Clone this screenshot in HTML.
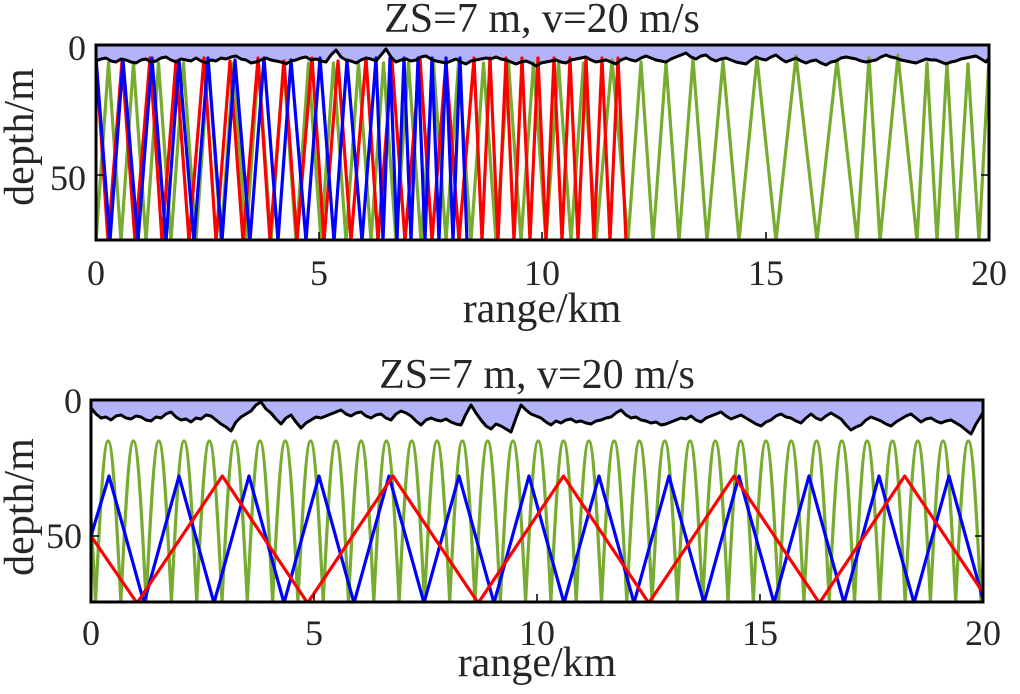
<!DOCTYPE html>
<html><head><meta charset="utf-8"><style>
html,body{margin:0;padding:0;background:#fff;}
svg text{font-family:"Liberation Serif","Times New Roman",serif;fill:#262626;}
</style></head><body>
<svg width="1020" height="689" viewBox="0 0 1020 689" xmlns="http://www.w3.org/2000/svg">
<defs>
<clipPath id="c1"><rect x="96" y="45" width="893" height="195"/></clipPath>
<clipPath id="c2"><rect x="91" y="400" width="892" height="202"/></clipPath>
<path id="s1" d="M96,45 L96,61 L101,59 L106,58 L111,61 L116,62 L121,59 L126,60 L131,62 L136,63 L141,60 L146,59 L151,62 L156,61 L161,58 L166,57 L171,60 L176,62 L181,59 L186,60 L191,61 L196,58 L201,61 L206,63 L211,60 L216,61 L221,58 L226,59 L231,57 L236,56 L241,59 L246,60 L251,63 L256,62 L261,60 L266,58 L271,60 L276,61 L281,62 L286,64 L291,61 L296,60 L301,58 L306,57 L311,60 L316,59 L321,61 L326,62 L331,55 L336,50 L341,57 L346,60 L351,61 L356,63 L361,60 L366,58 L371,59 L376,61 L381,55 L386,49 L391,57 L396,62 L401,60 L406,59 L411,61 L416,60 L421,57 L426,56 L431,59 L436,61 L441,62 L446,63 L451,61 L456,59 L461,62 L466,64 L471,61 L476,60 L481,59 L486,58 L491,59 L496,57 L501,59 L506,60 L511,62 L516,64 L521,62 L526,61 L531,63 L536,66 L541,63 L546,62 L551,61 L556,60 L561,62 L566,63 L571,60 L576,59 L581,58 L586,57 L591,60 L596,62 L601,61 L606,60 L611,62 L616,64 L621,60 L626,58 L631,60 L636,61 L641,58 L646,56 L651,58 L656,60 L661,61 L666,62 L671,59 L676,57 L681,55 L686,53 L691,57 L696,59 L701,56 L706,55 L711,59 L716,61 L721,59 L726,58 L731,60 L736,62 L741,63 L746,64 L751,60 L756,57 L761,59 L766,60 L771,57 L776,55 L781,59 L786,62 L791,60 L796,58 L801,61 L806,63 L811,61 L816,60 L821,63 L826,65 L831,62 L836,61 L841,58 L846,57 L851,58 L856,59 L861,61 L866,62 L871,61 L876,60 L881,57 L886,55 L891,57 L896,58 L901,60 L906,61 L911,62 L916,63 L921,61 L926,59 L931,60 L936,60 L941,62 L946,64 L951,62 L956,61 L961,59 L966,58 L971,57 L976,56 L981,59 L986,62 L989,58 L989,45"/>
<path id="s2" d="M91,400 L91,408 L96,414 L101,418 L106,417 L111,420 L116,416 L121,415 L126,418 L131,419 L136,416 L141,417 L146,420 L151,421 L156,417 L161,418 L166,414 L171,412 L176,417 L181,420 L186,419 L191,422 L196,418 L201,419 L206,415 L211,416 L216,420 L221,424 L226,427 L231,431 L236,422 L241,417 L246,414 L251,411 L256,405 L261,402 L266,409 L271,413 L276,419 L281,424 L286,418 L291,415 L296,422 L301,428 L306,423 L311,420 L316,417 L321,418 L326,416 L331,414 L336,412 L341,410 L346,414 L351,416 L356,413 L361,412 L366,416 L371,418 L376,415 L381,414 L386,418 L391,420 L396,414 L401,411 L406,413 L411,416 L416,421 L421,425 L426,420 L431,418 L436,420 L441,421 L446,419 L451,422 L456,424 L461,425 L466,414 L471,405 L476,413 L481,420 L486,426 L491,429 L496,424 L501,426 L506,429 L511,432 L516,418 L521,405 L526,410 L531,414 L536,416 L541,418 L546,422 L551,425 L556,421 L561,423 L566,420 L571,419 L576,422 L581,421 L586,423 L591,424 L596,421 L601,420 L606,418 L611,417 L616,413 L621,410 L626,415 L631,418 L636,417 L641,420 L646,421 L651,423 L656,422 L661,425 L666,424 L671,422 L676,420 L681,418 L686,419 L691,416 L696,420 L701,422 L706,418 L711,416 L716,414 L721,412 L726,416 L731,419 L736,417 L741,415 L746,418 L751,421 L756,424 L761,426 L766,422 L771,420 L776,416 L781,414 L786,417 L791,418 L796,421 L801,423 L806,418 L811,414 L816,418 L821,420 L826,416 L831,413 L836,416 L841,419 L846,425 L851,430 L856,427 L861,425 L866,420 L871,417 L876,419 L881,421 L886,424 L891,426 L896,422 L901,419 L906,416 L911,414 L916,418 L921,422 L926,419 L931,418 L936,421 L941,423 L946,421 L951,420 L956,423 L961,426 L966,430 L971,434 L976,424 L981,416 L983,412 L983,400"/>
</defs>
<g clip-path="url(#c1)" fill="none" stroke-linejoin="round">
<use href="#s1" fill="#b3b3fa" stroke="none"/>
<path stroke="#77ac30" stroke-width="3.2" d="M96,241 l12.5,-178l12.5,178 l12.5,-178l12.5,178 l12.5,-178l12.5,178 l12.5,-178l12.5,178 l12.5,-178l12.5,178 l12.5,-178l12.5,178 l12.5,-178l12.5,178 l12.5,-178l12.5,178 l12.5,-178l12.5,178 l12.5,-178l12.5,178 l12.5,-178l12.5,178 l12.5,-178l12.5,178 l12.5,-178l12.5,178 l12.5,-178l12.5,178 l12.5,-178l12.5,178 l12.5,-178l12.5,178 l12.5,-178l12.5,178 l12.5,-178l12.5,178 l12.5,-178l12.5,178 l12.5,-178l12.5,178 L612,60 L628,241 L641,62 L653,241 L666,63 L679,241 L693,59 L707,241 L723,61 L739,241 L757,58 L776,241 L796,56 L817,241 L837,60 L857,241 L869,58 L880,241 L898,55 L917,241 L927,63 L937,241 L947,63 L957,241 L968,64 L979,241 L989,58"/>
<path stroke="#ff0000" stroke-width="3.2" d="M96,58 l12,183l14,-180l13,180l15,-183 l12,183l14,-180l13,180l15,-183 l12,183l14,-180l13,180l15,-183 l12,183l14,-180l13,180l15,-183 l12,183l14,-180l13,180l15,-183 l12,183l14,-180l13,180l15,-183 l12,183l14,-180l13,180l15,-183 l8,183l8,-183 l8,183l8,-183 l8,183l8,-183 l8,183l8,-183 l8,183l8,-183 l8,183l8,-183 l8,183l8,-183 l8,183l8,-183 l8,183l8,-183 l8,183"/>
<path stroke="#0000ff" stroke-width="3.2" d="M96,58 l14,183l13,-181l15,181l14,-183 l14,183l13,-181l15,181l14,-183 l14,183l13,-181l15,181l14,-183 l14,183l13,-181l15,181l14,-183 l14,183l13,-181l15,181l14,-183 l7,183l7,-183 l7,183l7,-183 l7,183l7,-183 l7,183l7,-183 l7,183l7,-183 l7,183l7,-183 l7,183"/>
<use href="#s1" fill="none" stroke="#000" stroke-width="3"/>
</g>
<g clip-path="url(#c2)" fill="none" stroke-linejoin="round">
<use href="#s2" fill="#b3b3fa" stroke="none"/>
<path stroke="#77ac30" stroke-width="3.2" d="M70.2,602 c4.12,-82.5 8.05,-161 12.65,-161c4.6,0 8.53,78.5 12.65,161 c4.12,-82.5 8.05,-161 12.65,-161c4.6,0 8.53,78.5 12.65,161 c4.12,-82.5 8.05,-161 12.65,-161c4.6,0 8.53,78.5 12.65,161 c4.12,-82.5 8.05,-161 12.65,-161c4.6,0 8.53,78.5 12.65,161 c4.12,-82.5 8.05,-161 12.65,-161c4.6,0 8.53,78.5 12.65,161 c4.12,-82.5 8.05,-161 12.65,-161c4.6,0 8.53,78.5 12.65,161 c4.12,-82.5 8.05,-161 12.65,-161c4.6,0 8.53,78.5 12.65,161 c4.12,-82.5 8.05,-161 12.65,-161c4.6,0 8.53,78.5 12.65,161 c4.12,-82.5 8.05,-161 12.65,-161c4.6,0 8.53,78.5 12.65,161 c4.12,-82.5 8.05,-161 12.65,-161c4.6,0 8.53,78.5 12.65,161 c4.12,-82.5 8.05,-161 12.65,-161c4.6,0 8.53,78.5 12.65,161 c4.12,-82.5 8.05,-161 12.65,-161c4.6,0 8.53,78.5 12.65,161 c4.12,-82.5 8.05,-161 12.65,-161c4.6,0 8.53,78.5 12.65,161 c4.12,-82.5 8.05,-161 12.65,-161c4.6,0 8.53,78.5 12.65,161 c4.12,-82.5 8.05,-161 12.65,-161c4.6,0 8.53,78.5 12.65,161 c4.12,-82.5 8.05,-161 12.65,-161c4.6,0 8.53,78.5 12.65,161 c4.12,-82.5 8.05,-161 12.65,-161c4.6,0 8.53,78.5 12.65,161 c4.12,-82.5 8.05,-161 12.65,-161c4.6,0 8.53,78.5 12.65,161 c4.12,-82.5 8.05,-161 12.65,-161c4.6,0 8.53,78.5 12.65,161 c4.12,-82.5 8.05,-161 12.65,-161c4.6,0 8.53,78.5 12.65,161 c4.12,-82.5 8.05,-161 12.65,-161c4.6,0 8.53,78.5 12.65,161 c4.12,-82.5 8.05,-161 12.65,-161c4.6,0 8.53,78.5 12.65,161 c4.12,-82.5 8.05,-161 12.65,-161c4.6,0 8.53,78.5 12.65,161 c4.12,-82.5 8.05,-161 12.65,-161c4.6,0 8.53,78.5 12.65,161 c4.12,-82.5 8.05,-161 12.65,-161c4.6,0 8.53,78.5 12.65,161 c4.12,-82.5 8.05,-161 12.65,-161c4.6,0 8.53,78.5 12.65,161 c4.12,-82.5 8.05,-161 12.65,-161c4.6,0 8.53,78.5 12.65,161 c4.12,-82.5 8.05,-161 12.65,-161c4.6,0 8.53,78.5 12.65,161 c4.12,-82.5 8.05,-161 12.65,-161c4.6,0 8.53,78.5 12.65,161 c4.12,-82.5 8.05,-161 12.65,-161c4.6,0 8.53,78.5 12.65,161 c4.12,-82.5 8.05,-161 12.65,-161c4.6,0 8.53,78.5 12.65,161 c4.12,-82.5 8.05,-161 12.65,-161c4.6,0 8.53,78.5 12.65,161 c4.12,-82.5 8.05,-161 12.65,-161c4.6,0 8.53,78.5 12.65,161 c4.12,-82.5 8.05,-161 12.65,-161c4.6,0 8.53,78.5 12.65,161 c4.12,-82.5 8.05,-161 12.65,-161c4.6,0 8.53,78.5 12.65,161 c4.12,-82.5 8.05,-161 12.65,-161c4.6,0 8.53,78.5 12.65,161 c4.12,-82.5 8.05,-161 12.65,-161c4.6,0 8.53,78.5 12.65,161"/>
<path stroke="#0000ff" stroke-width="3.2" d="M91,536 L109,476 l35,127l35,-127 l35,127l35,-127 l35,127l35,-127 l35,127l35,-127 l35,127l35,-127 l35,127l35,-127 l35,127l35,-127 l35,127l35,-127 l35,127l35,-127 l35,127l35,-127 l35,127l35,-127 l35,127l35,-127 l35,127l35,-127 l35,127"/>
<path stroke="#ff0000" stroke-width="3.2" d="M91,536 L137,603 l85.3,-127l85.3,127 l85.3,-127l85.3,127 l85.3,-127l85.3,127 l85.3,-127l85.3,127 l85.3,-127l85.3,127 l85.3,-127l85.3,127"/>
<use href="#s2" fill="none" stroke="#000" stroke-width="3"/>
</g>
<rect x="96" y="45" width="893" height="195" fill="none" stroke="#000" stroke-width="3"/>
<rect x="91" y="400" width="892" height="202" fill="none" stroke="#000" stroke-width="3"/>
<g stroke="#000" stroke-width="1.5">
<line x1="319" y1="240" x2="319" y2="232"/><line x1="542" y1="240" x2="542" y2="232"/><line x1="766" y1="240" x2="766" y2="232"/>
<line x1="96" y1="175" x2="104" y2="175"/><line x1="989" y1="175" x2="981" y2="175"/>
<line x1="314" y1="602" x2="314" y2="594"/><line x1="537" y1="602" x2="537" y2="594"/><line x1="760" y1="602" x2="760" y2="594"/>
<line x1="91" y1="536" x2="99" y2="536"/><line x1="983" y1="536" x2="975" y2="536"/>
</g>
<g font-size="42" font-family="Liberation Serif, serif">
<text x="542" y="32" text-anchor="middle">ZS=7 m, v=20 m/s</text>
<text x="537" y="388" text-anchor="middle">ZS=7 m, v=20 m/s</text>
<text x="542" y="322" text-anchor="middle">range/km</text>
<text x="537" y="676" text-anchor="middle">range/km</text>
<text transform="translate(33,137) rotate(-90)" text-anchor="middle">depth/m</text>
<text transform="translate(33,507) rotate(-90)" text-anchor="middle">depth/m</text>
</g>
<g font-size="36" font-family="Liberation Serif, serif">
<text x="86" y="60" text-anchor="end">0</text>
<text x="86" y="190" text-anchor="end">50</text>
<text x="82" y="413" text-anchor="end">0</text>
<text x="82" y="548" text-anchor="end">50</text>
<text x="96" y="285" text-anchor="middle">0</text>
<text x="319" y="285" text-anchor="middle">5</text>
<text x="542" y="285" text-anchor="middle">10</text>
<text x="766" y="285" text-anchor="middle">15</text>
<text x="989" y="285" text-anchor="middle">20</text>
<text x="91" y="645" text-anchor="middle">0</text>
<text x="314" y="645" text-anchor="middle">5</text>
<text x="537" y="645" text-anchor="middle">10</text>
<text x="760" y="645" text-anchor="middle">15</text>
<text x="983" y="645" text-anchor="middle">20</text>
</g>
</svg>
</body></html>
